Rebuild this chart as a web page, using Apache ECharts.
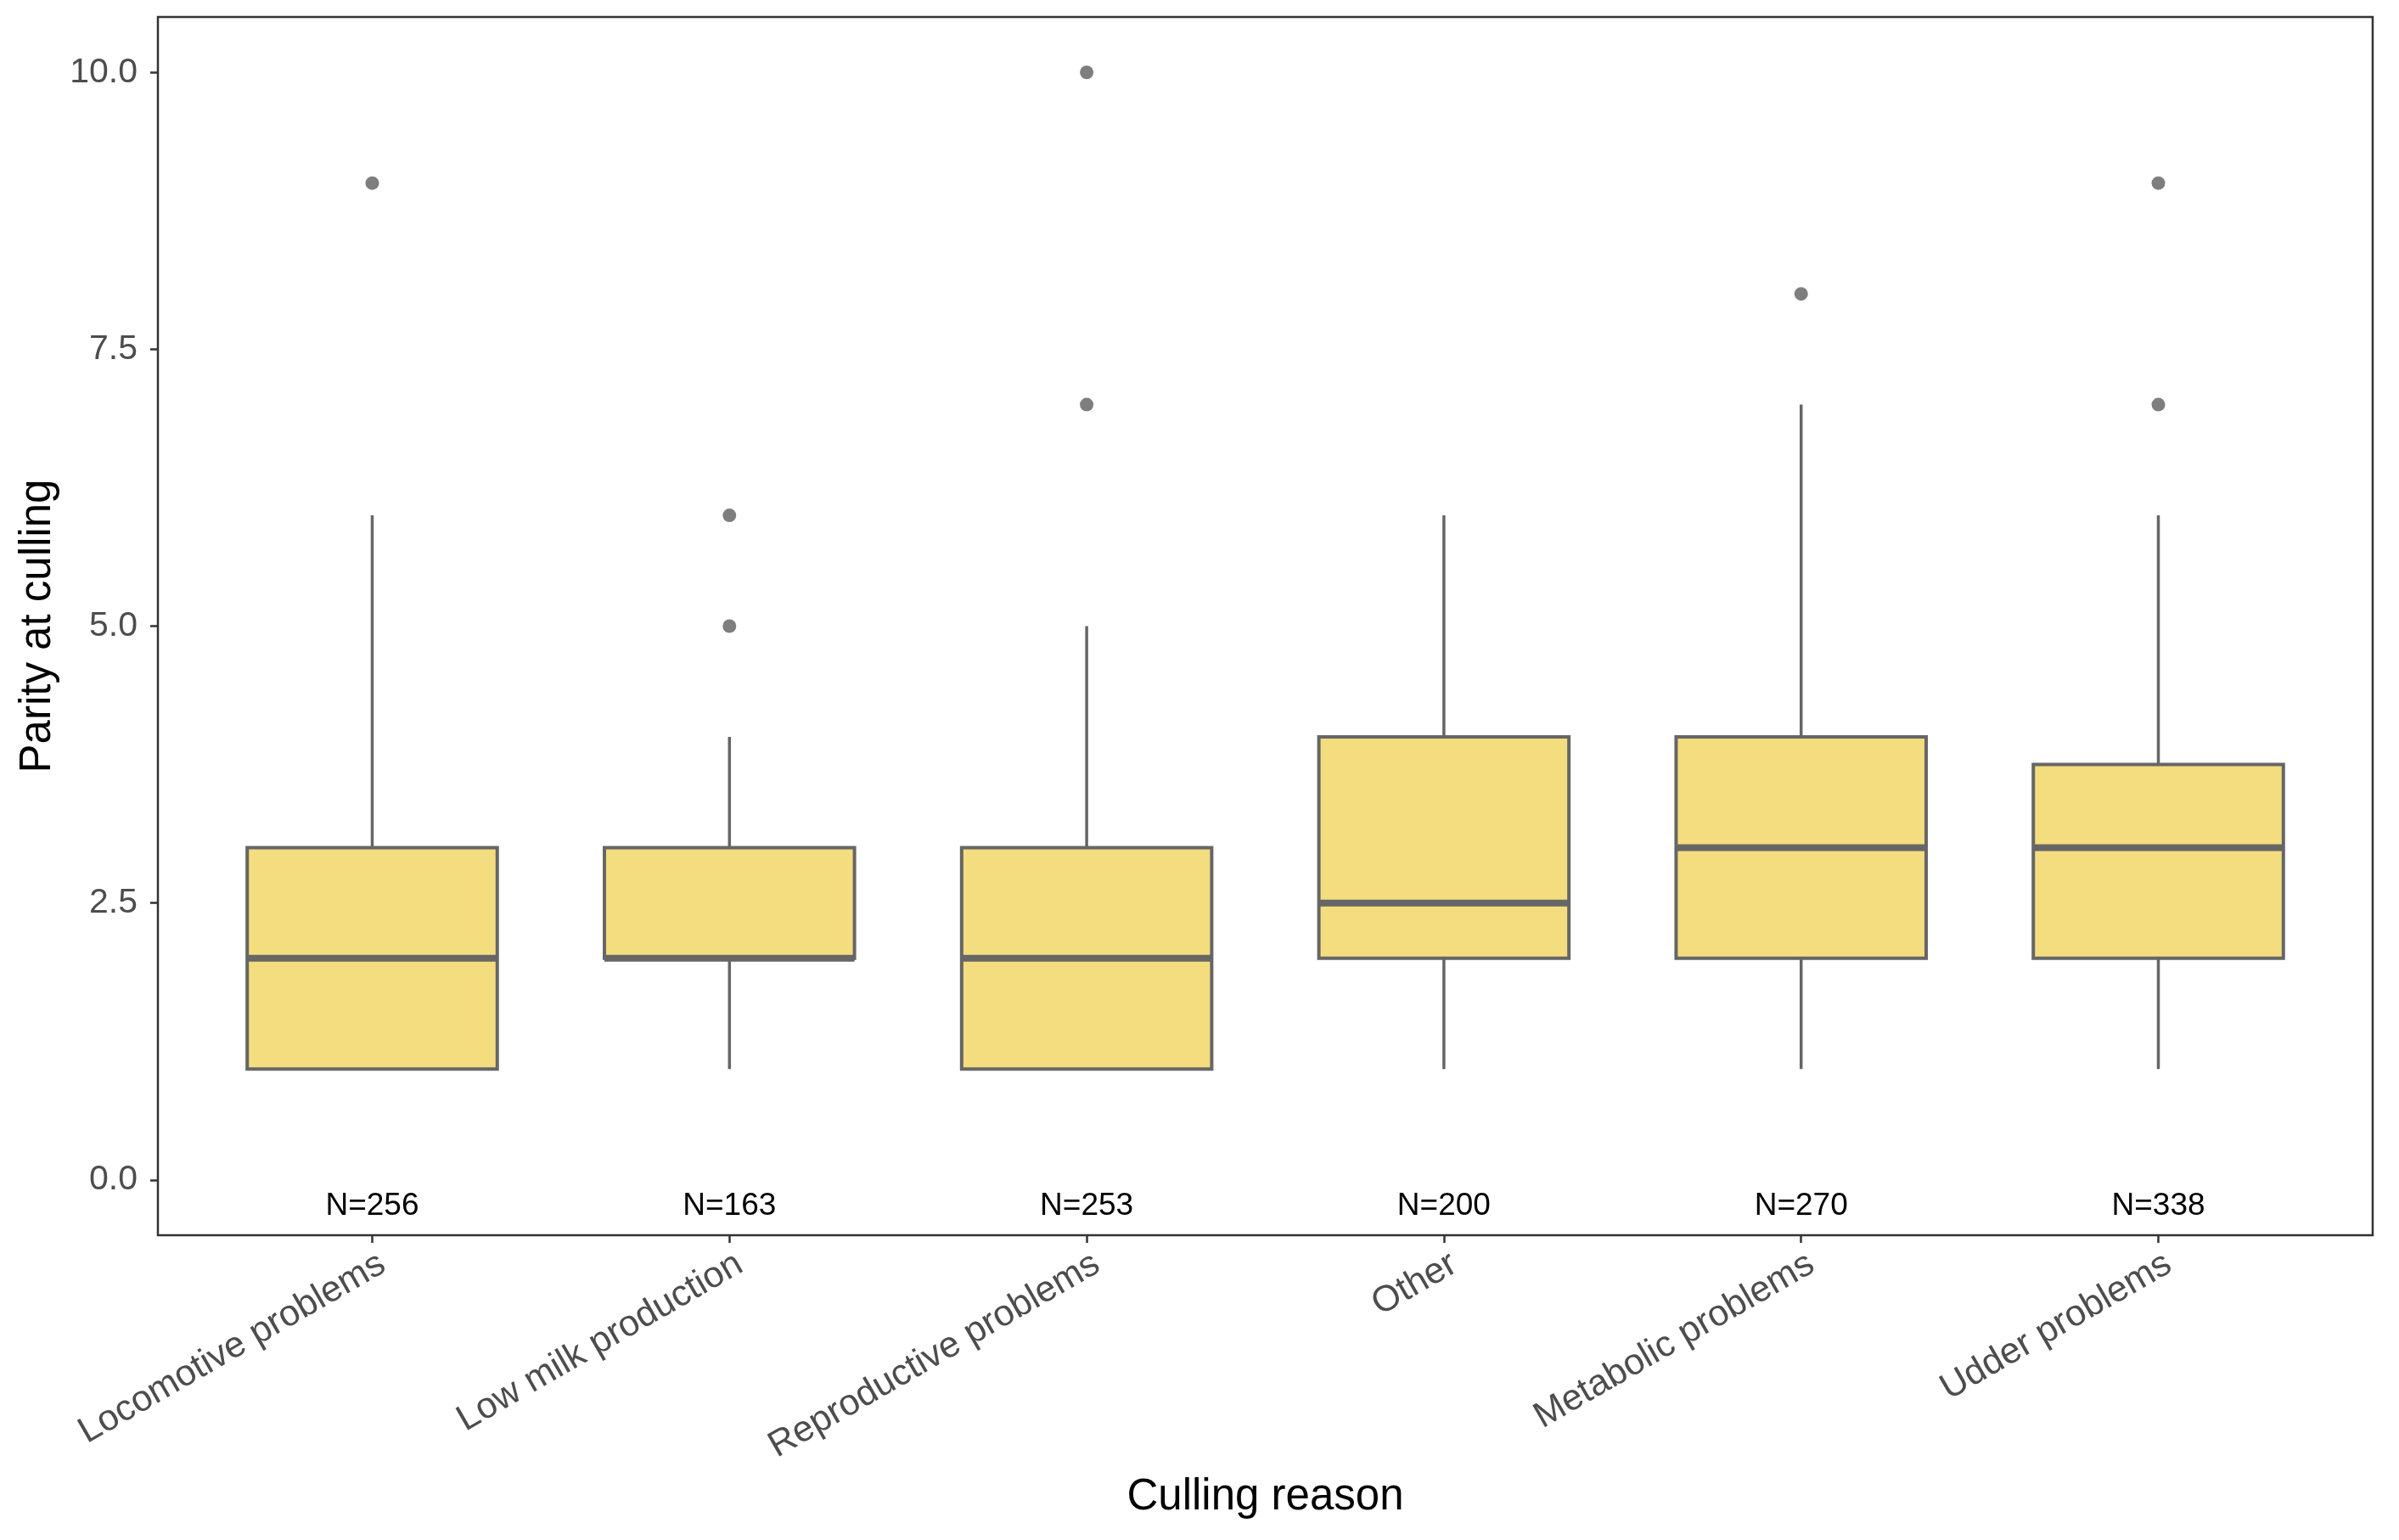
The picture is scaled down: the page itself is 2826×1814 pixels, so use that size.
<!DOCTYPE html>
<html>
<head>
<meta charset="utf-8">
<script src="https://cdn.jsdelivr.net/npm/echarts@6/dist/echarts.min.js"></script>
<style>
  html, body { margin: 0; padding: 0; background: #ffffff; }
  #chart { width: 2826px; height: 1814px; }
</style>
</head>
<body>
<div id="chart"></div>
<script>
// ---- data ----
const categories = ['Locomotive problems', 'Low milk production', 'Reproductive problems', 'Other', 'Metabolic problems', 'Udder problems'];
const whiskerLow  = [1, 1, 1, 1, 1, 1];
const quartile1   = [1, 2, 1, 2, 2, 2];
const medians     = [2, 2, 2, 2.5, 3, 3];
const quartile3   = [3, 3, 3, 4, 4, 3.75];
const whiskerHigh = [6, 4, 5, 6, 7, 6];
const outliers    = [[9], [5, 6], [7, 10], [], [8], [7, 9]];
const counts      = [256, 163, 253, 200, 270, 338];
const yTicks      = [0, 2.5, 5, 7.5, 10];

// ---- style constants ----
const FONT = "'Liberation Sans', Arial, sans-serif";
const BOX_WIDTH = 0.7;
const N_LABEL_Y = -0.24;
const FILL = '#F3DD7F';
const EDGE = '#666666';

const boxData = categories.map((c, i) => [i, whiskerLow[i], quartile1[i], medians[i], quartile3[i], whiskerHigh[i]]);
const outlierData = [];
outliers.forEach((arr, i) => arr.forEach(v => outlierData.push([i, v])));
const countData = counts.map((n, i) => [i, n]);
const xTicks = categories.map((c, i) => i);

function renderBox(params, api) {
  const x = api.value(0);
  const lo = api.coord([x, api.value(1)]);
  const b1 = api.coord([x, api.value(2)]);
  const md = api.coord([x, api.value(3)]);
  const b3 = api.coord([x, api.value(4)]);
  const hi = api.coord([x, api.value(5)]);
  const half = api.size([BOX_WIDTH, 0])[0] / 2;
  return {
    type: 'group',
    children: [
      { type: 'line', shape: { x1: hi[0], y1: hi[1], x2: b3[0], y2: b3[1] }, style: { stroke: EDGE, lineWidth: 3.5 } },
      { type: 'line', shape: { x1: lo[0], y1: lo[1], x2: b1[0], y2: b1[1] }, style: { stroke: EDGE, lineWidth: 3.5 } },
      { type: 'rect', shape: { x: b3[0] - half, y: b3[1], width: 2 * half, height: b1[1] - b3[1] },
        style: { fill: FILL, stroke: EDGE, lineWidth: 4 } },
      { type: 'line', shape: { x1: md[0] - half, y1: md[1], x2: md[0] + half, y2: md[1] },
        style: { stroke: EDGE, lineWidth: 8 } }
    ]
  };
}

function renderCount(params, api) {
  const p = api.coord([api.value(0), N_LABEL_Y]);
  return {
    type: 'text',
    x: p[0], y: p[1],
    style: { text: 'N=' + api.value(1), fill: '#000000', font: '37px ' + FONT, align: 'center', verticalAlign: 'middle' }
  };
}

const chart = echarts.init(document.getElementById('chart'));
chart.setOption({
  animation: false,
  backgroundColor: '#ffffff',
  grid: { left: 186, right: 31, top: 20, bottom: 359, show: true, borderColor: '#333333', borderWidth: 2.5, backgroundColor: 'transparent' },
  xAxis: {
    type: 'value', min: -0.6, max: 5.6,
    name: 'Culling reason', nameLocation: 'middle', nameGap: 283,
    nameTextStyle: { fontFamily: FONT, fontSize: 51, color: '#000000' },
    axisLine: { show: false, onZero: false },
    axisTick: { show: true, length: 9, customValues: xTicks, lineStyle: { color: '#333333', width: 2.5 } },
    axisLabel: {
      customValues: xTicks, rotate: 30, margin: 38,
      fontFamily: FONT, fontSize: 43, color: '#4D4D4D',
      padding: [0, -14, 0, 0],
      formatter: v => categories[Math.round(v)]
    },
    splitLine: { show: false }
  },
  yAxis: {
    type: 'value', min: -0.5, max: 10.5,
    name: 'Parity at culling', nameLocation: 'middle', nameGap: 116,
    nameTextStyle: { fontFamily: FONT, fontSize: 51, color: '#000000' },
    axisLine: { show: false, onZero: false },
    axisTick: { show: true, length: 9, customValues: yTicks, lineStyle: { color: '#333333', width: 2.5 } },
    axisLabel: {
      customValues: yTicks, margin: 24,
      fontFamily: FONT, fontSize: 41, color: '#4D4D4D',
      formatter: v => v.toFixed(1)
    },
    splitLine: { show: false }
  },
  series: [
    { type: 'custom', data: boxData, renderItem: renderBox, encode: { x: 0, y: [1, 2, 3, 4, 5] }, z: 2 },
    { type: 'scatter', data: outlierData, symbol: 'circle', symbolSize: 16, itemStyle: { color: '#5E5E5E' }, z: 3 },
    { type: 'custom', data: countData, renderItem: renderCount, encode: { x: 0 }, z: 4 }
  ]
});
</script>
</body>
</html>
